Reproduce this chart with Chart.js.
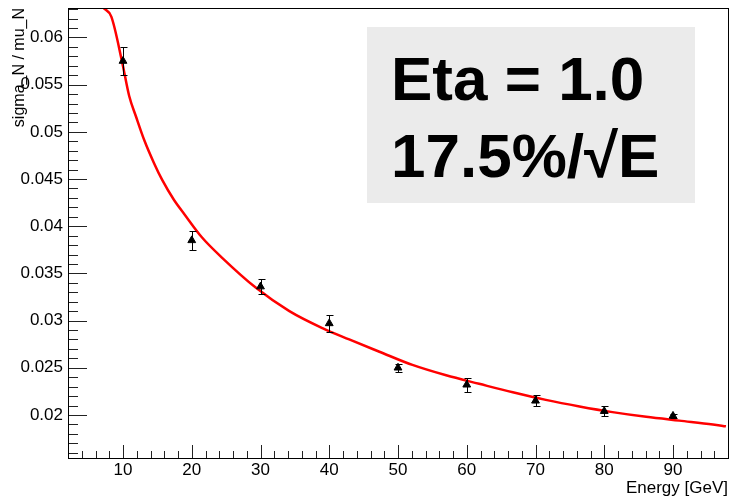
<!DOCTYPE html>
<html>
<head>
<meta charset="utf-8">
<script src="https://cdn.jsdelivr.net/npm/chart.js@4.4.1/dist/chart.umd.min.js"></script>
<style>
  html, body { margin: 0; padding: 0; background: #fff; }
  canvas { display: block; }
</style>
</head>
<body>
<canvas id="resoChart" width="730" height="501"></canvas>
<script>
// measured points: energy [GeV], sigma_N / mu_N and its error
const energies = [10, 20, 30, 40, 50, 60, 70, 80, 90];
const sigmaOverMu = [0.0575, 0.0385, 0.0336, 0.0297, 0.0250, 0.0232, 0.0215, 0.0204, 0.0199];
const sigmaErr = [0.0015, 0.0010, 0.00083, 0.00088, 0.0004, 0.00074, 0.00057, 0.0005, 0.0002];

// fitted curve
const fitE = [7.2, 8.3, 9.9, 10.9, 11.9, 13.1, 14.5, 15.7, 17.4, 18.9, 21.5, 24.5, 29.3, 34.2,
  39.0, 42.9, 47.3, 52.1, 57.0, 61.8, 66.7, 71.5, 76.4, 81.2, 86.1, 90.9, 95.8, 97.7];
const fitV = [0.0631, 0.0622, 0.0573, 0.0538, 0.0516, 0.0491, 0.0467, 0.0449, 0.0428, 0.0413,
  0.0388, 0.0366, 0.0335, 0.0310, 0.0292, 0.0280, 0.0267, 0.0253, 0.0242, 0.0233, 0.0224,
  0.0216, 0.0209, 0.0203, 0.0198, 0.0194, 0.0190, 0.0188];

const xTicks = [10, 20, 30, 40, 50, 60, 70, 80, 90];
const yTicks = [0.02, 0.025, 0.03, 0.035, 0.04, 0.045, 0.05, 0.055, 0.06];
const xRange = [2, 98];
const yRange = [0.01544, 0.06312];
const labelLines = ["Eta = 1.0", "17.5%/\u221AE"];

const font = "'Liberation Sans', Arial, Helvetica, sans-serif";

// ROOT style frame: ticks inside, text pave
const rootFrame = {
  id: "rootFrame",
  afterDatasetsDraw(chart) {
    const { ctx, chartArea: a, scales: { x, y } } = chart;
    ctx.save();
    ctx.beginPath();
    ctx.rect(a.left, a.top, a.right - a.left, a.bottom - a.top);
    ctx.clip();
    ctx.strokeStyle = "#000";
    ctx.lineWidth = 1;
    energies.forEach((e, i) => {
      const px = Math.round(x.getPixelForValue(e)) + 0.5;
      const top = Math.round(y.getPixelForValue(sigmaOverMu[i] + sigmaErr[i])) + 0.5;
      const bot = Math.round(y.getPixelForValue(sigmaOverMu[i] - sigmaErr[i])) + 0.5;
      ctx.beginPath();
      ctx.moveTo(px, top); ctx.lineTo(px, bot);
      ctx.moveTo(px - 3, top); ctx.lineTo(px + 4, top);
      ctx.moveTo(px - 3, bot); ctx.lineTo(px + 4, bot);
      ctx.stroke();
    });
    ctx.restore();
  },
  afterDraw(chart) {
    const { ctx, chartArea: a, scales: { x, y } } = chart;
    ctx.save();
    ctx.strokeStyle = "#222";
    ctx.lineWidth = 1;
    ctx.beginPath();
    // y ticks
    for (let v = 0.016; v < yRange[1]; v += 0.001) {
      const py = Math.round(y.getPixelForValue(v)) + 0.5;
      const major = Math.abs(v * 200 - Math.round(v * 200)) < 1e-6;
      ctx.moveTo(a.left, py);
      ctx.lineTo(a.left + (major ? 19 : 10), py);
    }
    // x ticks
    for (let v = 4; v < xRange[1]; v += 2) {
      const px = Math.round(x.getPixelForValue(v)) + 0.5;
      const major = v % 10 === 0;
      ctx.moveTo(px, a.bottom);
      ctx.lineTo(px, a.bottom - (major ? 13 : 7));
    }
    ctx.stroke();
    // frame
    ctx.strokeStyle = "#000";
    ctx.strokeRect(Math.round(a.left) + 0.5, Math.round(a.top) + 0.5,
      Math.round(a.right - a.left), Math.round(a.bottom - a.top));

    // text pave
    ctx.fillStyle = "#ebebeb";
    ctx.fillRect(367, 27, 328, 176);
    ctx.fillStyle = "#000";
    ctx.font = "bold 62px " + font;
    ctx.textAlign = "left";
    ctx.textBaseline = "alphabetic";
    ctx.fillText(labelLines[0], 391, 100);
    ctx.fillText(labelLines[1], 391, 177);
    ctx.restore();
  }
};

Chart.defaults.font.family = font;
Chart.defaults.color = "#000";

new Chart(document.getElementById("resoChart"), {
  type: "scatter",
  data: {
    datasets: [
      {
        label: "points",
        data: energies.map((e, i) => ({ x: e, y: sigmaOverMu[i] })),
        pointStyle: "triangle",
        pointRadius: 4.5,
        backgroundColor: "#000",
        borderColor: "#000",
        borderWidth: 1,
        order: 0
      },
      {
        label: "fit",
        type: "line",
        data: fitE.map((e, i) => ({ x: e, y: fitV[i] })),
        borderColor: "#ff0000",
        borderWidth: 2.5,
        pointRadius: 0,
        cubicInterpolationMode: "monotone",
        fill: false,
        order: 1
      }
    ]
  },
  options: {
    responsive: false,
    animation: false,
    layout: { autoPadding: false, padding: { left: 0, right: 2, top: 8, bottom: 0 } },
    plugins: {
      legend: { display: false },
      tooltip: { enabled: false }
    },
    scales: {
      x: {
        type: "linear",
        min: xRange[0],
        max: xRange[1],
        afterBuildTicks: s => { s.ticks = xTicks.map(v => ({ value: v })); },
        afterFit: s => { s.height = 43; s.paddingLeft = 0; s.paddingRight = 0; },
        grid: { display: false, drawTicks: false },
        border: { display: false },
        ticks: { padding: 2, font: { size: 17 }, color: "#000", maxRotation: 0 },
        title: {
          display: true,
          text: "Energy [GeV]",
          align: "end",
          font: { size: 17 },
          padding: { top: 0, bottom: 2 }
        }
      },
      y: {
        type: "linear",
        min: yRange[0],
        max: yRange[1],
        afterBuildTicks: s => { s.ticks = yTicks.map(v => ({ value: v })); },
        afterFit: s => { s.width = 68; s.paddingTop = 0; s.paddingBottom = 0; },
        grid: { display: false, drawTicks: false },
        border: { display: false },
        ticks: {
          padding: 5,
          font: { size: 17 },
          color: "#000",
          callback: v => String(+v.toFixed(3))
        },
        title: {
          display: true,
          text: "sigma_N / mu_N",
          align: "end",
          font: { size: 16 },
          padding: { top: 10, bottom: 0 }
        }
      }
    }
  },
  plugins: [rootFrame]
});
</script>
</body>
</html>
